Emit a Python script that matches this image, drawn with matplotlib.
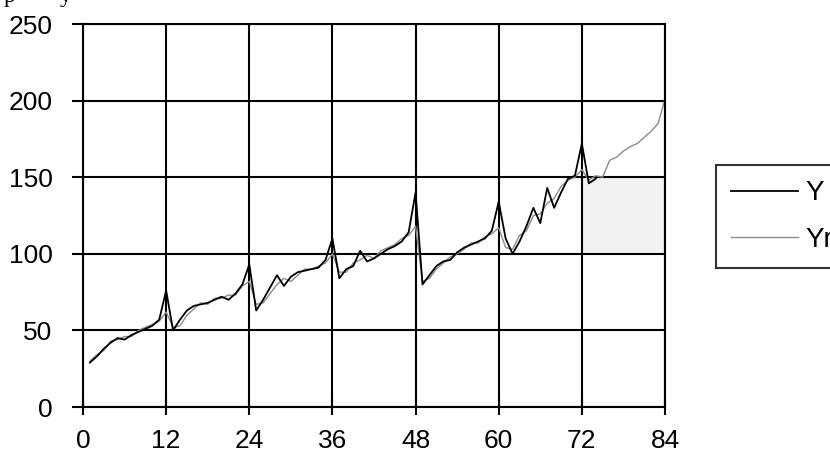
import matplotlib
matplotlib.use("Agg")
from matplotlib import pyplot as plt

# monthly series: observed Y and fitted/forecast Yr
meses_y = list(range(1, 75))
y = [29, 33, 38, 42, 45, 44, 47, 49, 51, 53, 57, 76,
     50, 57, 63, 66, 67, 68, 70, 72, 70, 74, 80, 93,
     63, 70, 78, 86, 79, 85, 88, 89, 90, 91, 96, 110,
     84, 90, 92, 102, 95, 97, 100, 103, 105, 108, 114, 140,
     80, 86, 92, 95, 96, 101, 104, 106, 108, 110, 115, 134,
     110, 100, 108, 118, 130, 120, 143, 130, 140, 149, 151, 172,
     146, 149]

meses_yr = list(range(1, 85))
yr = [30, 34, 37, 43, 44, 46, 46, 50, 52, 54, 56, 62,
      52, 53, 60, 64, 68, 67, 71, 71, 73, 73, 79, 82,
      67, 68, 74, 80, 84, 82, 86, 90, 90, 92, 94, 100,
      88, 88, 94, 96, 99, 97, 102, 104, 106, 110, 112, 118,
      82, 84, 90, 94, 98, 100, 103, 107, 107, 111, 113, 117,
      104, 103, 112, 115, 125, 126, 133, 136, 144, 148, 150, 155,
      148, 151, 150, 161, 163, 167, 170, 172, 176, 180, 185, 201]

x_ticks = [0, 12, 24, 36, 48, 60, 72, 84]
y_ticks = [0, 50, 100, 150, 200, 250]

# faixa sombreada da previsao
prev_ini, prev_fim = 72, 84
faixa_min, faixa_max = 100, 150

plt.rcParams["font.family"] = ["Liberation Sans", "DejaVu Sans"]

fig = plt.figure(figsize=(8.3, 4.61), dpi=100)
ax = fig.add_axes([83 / 830, 54 / 461, 582 / 830, 383 / 461])

ax.fill_between([prev_ini, prev_fim], faixa_min, faixa_max,
                color="#f2f2f2", lw=0, zorder=0)

linha_y, = ax.plot(meses_y, y, color="black", lw=1.3, zorder=3)
linha_yr, = ax.plot(meses_yr, yr, color="#8c8c8c", lw=1.0, zorder=2)

ax.set_xlim(0, 84)
ax.set_ylim(0, 250)
ax.set_xticks(x_ticks)
ax.set_yticks(y_ticks)
ax.grid(True, color="black", lw=1.5)
ax.set_axisbelow(True)
for s in ax.spines.values():
    s.set_linewidth(1.5)
ax.tick_params(axis="x", direction="inout", length=11, width=1.5,
               labelsize=19, pad=10)
ax.tick_params(axis="y", direction="out", length=8, width=1.5,
               labelsize=19, pad=14)

leg = fig.legend([linha_y, linha_yr], ["Y", "Yr"], loc="upper left",
                 bbox_to_anchor=(716 / 830, 1 - 165 / 461),
                 fontsize=20, frameon=True, fancybox=False,
                 handlelength=2.4, handletextpad=0.25, labelspacing=0.75,
                 borderpad=0.55, borderaxespad=0)
leg.get_frame().set_edgecolor("black")
leg.get_frame().set_linewidth(1.5)

# restos da linha de texto cortada no topo
fig.text(0.004, 1 - 2 / 461, "p", family="Liberation Serif", fontsize=17,
         va="baseline")
fig.text(0.072, 1 - 2 / 461, "y", family="Liberation Serif", fontsize=17,
         va="baseline")

fig.savefig("out.png", dpi=100)
